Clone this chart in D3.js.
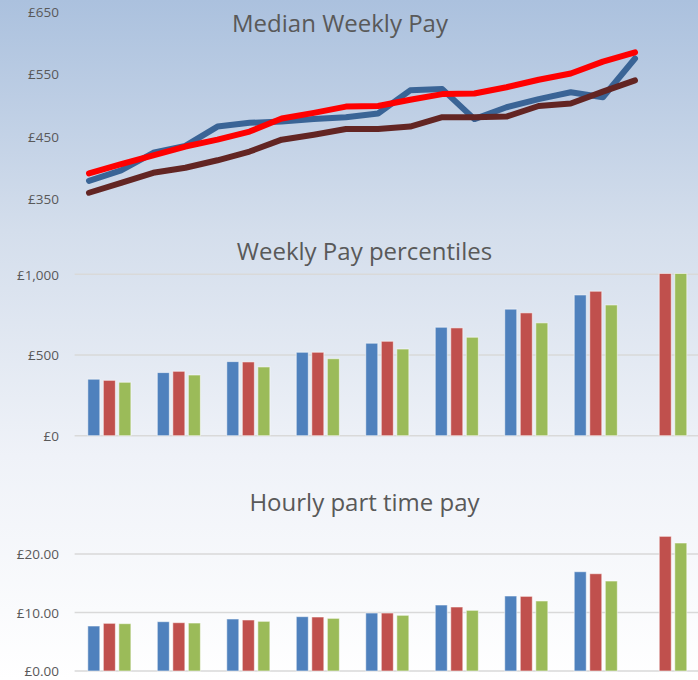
<!DOCTYPE html>
<html>
<head>
<meta charset="utf-8">
<script src="https://cdn.jsdelivr.net/npm/d3@7"></script>
<style>
  html, body { margin: 0; padding: 0; background: #fff; }
  svg { display: block; font-family: "Open Sans", sans-serif; }
</style>
</head>
<body>
<svg id="chart" width="698" height="680"></svg>
<script>
// ---------- DATA ----------
const periods = ["1997","1998","1999","2000","2001","2002","2003","2004","2005","2006","2007","2008","2009","2010","2011","2012","2013","2014"];
const medianSeriesNames = ["Local", "Region", "Comparator"];
const medianLocal      = [379, 396, 424, 435, 466, 472, 474, 478, 481, 487, 524, 526, 478, 497, 510, 521, 513, 575];
const medianRegion     = [391, 406, 420, 434, 445, 458, 479, 488, 498, 499, 509, 518, 519, 529, 541, 551, 570, 585];
const medianComparator = [360, 376, 392, 400, 412, 426, 445, 453, 462, 462, 466, 481, 481, 482, 499, 503, 522, 540];
const medianTicks = [350, 450, 550, 650];

const percentiles = ["10th", "20th", "30th", "40th", "50th", "60th", "70th", "80th", "90th"];
const barSeries = ["Local", "Region", "Comparator"];
const weeklyLocal      = [350, 391, 459, 517, 573, 672, 784, 872, null];
const weeklyRegion     = [343, 399, 457, 517, 585, 668, 761, 895, 1005];
const weeklyComparator = [331, 376, 426, 477, 537, 610, 699, 810, 1005];
const weeklyTicks = [0, 500, 1000];

const hourlyLocal      = [7.69, 8.43, 8.89, 9.29, 9.91, 11.28, 12.82, 16.97, null];
const hourlyRegion     = [8.15, 8.26, 8.72, 9.23, 9.91, 10.94, 12.76, 16.63, 23.02];
const hourlyComparator = [8.09, 8.20, 8.49, 9.00, 9.52, 10.37, 11.97, 15.38, 21.88];
const hourlyTicks = [0, 10, 20];

const titles = ["Median Weekly Pay", "Weekly Pay percentiles", "Hourly part time pay"];

// ---------- STYLE ----------
const lineColors = ["#3a6496", "#ff0000", "#632523"];
const barColors = ["#4f81bd", "#c0504d", "#9bbb59"];
const textColor = "#595959";
const gridColor = "#d9d9d9";

const svg = d3.select("#chart");
const W = 698, H = 680;

// background gradient
const defs = svg.append("defs");
const grad = defs.append("linearGradient").attr("id", "bg").attr("x1", 0).attr("y1", 0).attr("x2", 0).attr("y2", 1);
grad.append("stop").attr("offset", "0%").attr("stop-color", "#abc1de");
grad.append("stop").attr("offset", "34%").attr("stop-color", "#d4deec");
grad.append("stop").attr("offset", "67%").attr("stop-color", "#eff2f8");
grad.append("stop").attr("offset", "100%").attr("stop-color", "#ffffff");
svg.append("rect").attr("width", W).attr("height", H).attr("fill", "url(#bg)");

function title(text, x, y) {
  svg.append("text").attr("x", x).attr("y", y).attr("text-anchor", "middle")
    .attr("fill", textColor).style("font-size", "24px").text(text);
}

function yAxis(scale, ticks, fmt, grid) {
  const g = svg.append("g").attr("transform", "translate(59,0)");
  const ax = d3.axisLeft(scale).tickValues(ticks).tickFormat(fmt).tickSize(0).tickPadding(0);
  g.call(ax);
  g.attr("font-family", null).attr("font-size", null);
  g.select(".domain").remove();
  g.selectAll("text").attr("fill", textColor)
    .style("font-family", "'Open Sans', sans-serif").style("font-size", "13.5px").attr("dy", "0.35em");
  if (grid) {
    svg.append("g").selectAll("line").data(ticks).join("line")
      .attr("x1", 74.6).attr("x2", W)
      .attr("y1", d => scale(d)).attr("y2", d => scale(d))
      .attr("stroke", gridColor).attr("stroke-width", 1.6);
  }
}

// ---------- PANEL 1: lines ----------
title(titles[0], 340, 32);
const x1 = d3.scalePoint().domain(periods).range([89, 635]);
const y1 = d3.scaleLinear().domain([350, 650]).range([199, 11.7]);
yAxis(y1, medianTicks, d => "£" + d, false);
const lineGen = d3.line().x((d, i) => x1(periods[i])).y(d => y1(d));
const drawOrder = [0, 2, 1];
const medianData = [medianLocal, medianRegion, medianComparator];
drawOrder.forEach(k => {
  svg.append("path").datum(medianData[k]).attr("d", lineGen)
    .attr("fill", "none").attr("stroke", lineColors[k]).attr("stroke-width", 6)
    .attr("stroke-linejoin", "round").attr("stroke-linecap", "round");
});

// ---------- BAR PANELS ----------
const x0 = d3.scaleBand().domain(percentiles).range([74.6, 700]).paddingInner(0.38).paddingOuter(0.19);
const xs = d3.scaleBand().domain(barSeries).range([0, x0.bandwidth()]).paddingInner(0.226);

function barPanel(seriesArr, yScale) {
  const rows = percentiles.map((p, i) => ({ p, vals: seriesArr.map((s, k) => ({ key: barSeries[k], v: s[i], k })) }));
  const g = svg.append("g");
  g.selectAll("g").data(rows).join("g")
    .attr("transform", d => `translate(${x0(d.p)},0)`)
    .selectAll("rect").data(d => d.vals.filter(v => v.v != null)).join("rect")
    .attr("x", d => xs(d.key)).attr("width", xs.bandwidth())
    .attr("y", d => yScale(d.v)).attr("height", d => yScale(0) - yScale(d.v))
    .attr("fill", d => barColors[d.k])
    .attr("stroke", "rgba(255,255,255,0.55)").attr("stroke-width", 1);
}

// Panel 2
title(titles[1], 364.5, 260);
const y2 = d3.scaleLinear().domain([0, 1000]).range([435.7, 274.3]);
yAxis(y2, weeklyTicks, d => "£" + d3.format(",")(d), true);
barPanel([weeklyLocal, weeklyRegion, weeklyComparator], y2);

// Panel 3
title(titles[2], 364.5, 511);
const y3 = d3.scaleLinear().domain([0, 20]).range([671, 554]);
yAxis(y3, hourlyTicks, d => "£" + d3.format(".2f")(d), true);
barPanel([hourlyLocal, hourlyRegion, hourlyComparator], y3);
</script>
</body>
</html>
